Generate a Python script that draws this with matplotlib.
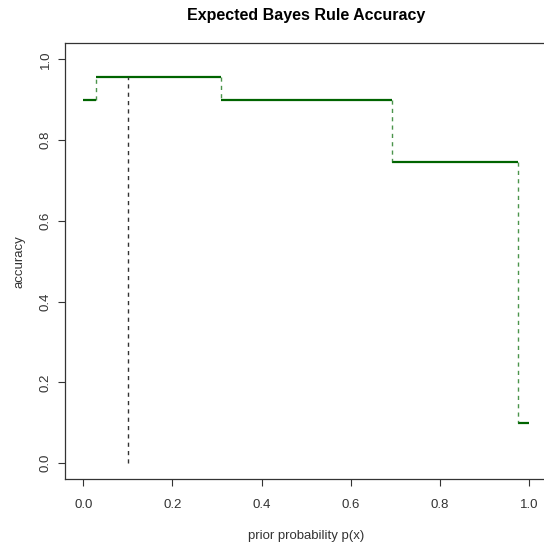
import matplotlib
matplotlib.use("Agg")
import matplotlib.pyplot as plt

# step levels of the expected accuracy over the prior p(x)
breaks = [0.0, 0.028, 0.31, 0.693, 0.975, 1.0]
accuracy = [0.9, 0.956, 0.9, 0.747, 0.1]
prior_mark = 0.1
prior_mark_acc = 0.956

xticks = [0.0, 0.2, 0.4, 0.6, 0.8, 1.0]
yticks = [0.0, 0.2, 0.4, 0.6, 0.8, 1.0]

plt.rcParams["font.family"] = ["Liberation Sans", "DejaVu Sans"]

fig = plt.figure(figsize=(5.44, 5.50), dpi=100)
ax = fig.add_axes([0.1202, 0.1285, 0.8855, 0.7928])

green = "#1f7a1f"
for i, acc in enumerate(accuracy):
    ax.plot([breaks[i], breaks[i + 1]], [acc, acc], color="#006400", lw=1.6,
            solid_capstyle="butt")
    if i > 0:
        ax.plot([breaks[i], breaks[i]], [accuracy[i - 1], acc], color=green,
                lw=1.0, ls=(0, (3, 3)), alpha=0.8)

ax.plot([prior_mark, prior_mark], [0, prior_mark_acc], color="#333333",
        lw=1.0, ls=(0, (3, 3)))

ax.set_xlim(-0.04, 1.04)
ax.set_ylim(-0.04, 1.04)
ax.set_xticks(xticks)
ax.set_yticks(yticks)
ax.set_xticklabels([f"{v:.1f}" for v in xticks])
ax.set_yticklabels([f"{v:.1f}" for v in yticks], rotation=90, va="center")
ax.tick_params(direction="out", length=5, width=0.8, colors="#333333",
               labelcolor="#333333", labelsize=9.5)
ax.tick_params(axis="x", pad=9)
ax.tick_params(axis="y", pad=5)
for sp in ax.spines.values():
    sp.set_color("#333333")
    sp.set_linewidth(0.9)

ax.set_xlabel("prior probability p(x)", fontsize=9.5, color="#333333",
              labelpad=14)
ax.set_ylabel("accuracy", fontsize=9.5, color="#333333", labelpad=10)
fig.text(0.562, 0.972, "Expected Bayes Rule Accuracy", ha="center",
         va="center", fontsize=11.5, fontweight="bold")

fig.savefig("out.png", dpi=100)
